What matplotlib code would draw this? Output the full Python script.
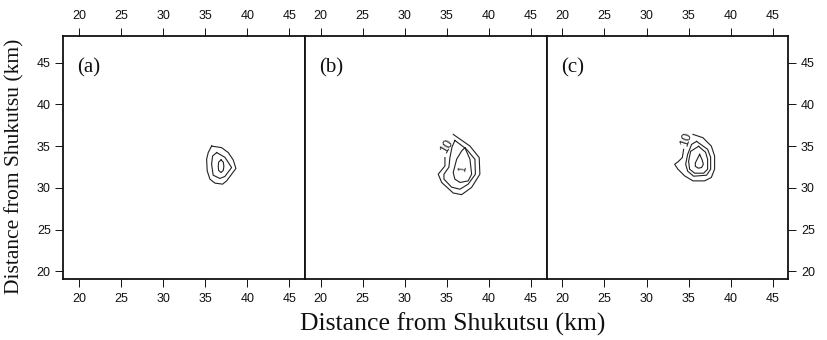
import matplotlib
matplotlib.use("Agg")
import matplotlib.pyplot as plt

# ---- data (km from Shukutsu) ----
xlim = (18.14, 46.86)
ylim = (19.1, 48.2)
ticks = [20, 25, 30, 35, 40, 45]
panel_labels = ["(a)", "(b)", "(c)"]

# panel (a) contour paths
a_outer_x = [35.76, 36.95, 37.74, 38.33, 38.65, 38.14, 37.55, 37.07, 36.16, 35.56, 35.24, 35.17, 35.36, 35.76]
a_outer_y = [35.02, 34.83, 34.24, 33.36, 32.33, 31.65, 30.85, 30.46, 30.58, 31.06, 32.05, 33.44, 34.24, 35.02]
a_mid_x = [36.36, 37.34, 38.14, 37.34, 36.75, 35.95, 35.76, 35.88, 36.36]
a_mid_y = [34.24, 33.68, 32.45, 31.38, 31.14, 31.53, 32.84, 33.83, 34.24]
a_in_x = [36.88, 37.15, 37.22, 37.15, 36.88, 36.60, 36.55, 36.60, 36.88]
a_in_y = [33.36, 33.10, 32.60, 32.10, 31.85, 32.10, 32.60, 33.10, 33.36]

# panel (b) contour paths
b_outer_x = [35.75, 37.74, 38.84, 38.92, 37.94, 36.75, 35.75, 34.38, 33.97, 34.77, 34.77]
b_outer_y = [36.42, 35.02, 33.64, 31.65, 30.07, 29.20, 29.40, 30.66, 31.65, 32.64, 33.64]
b_mid_x = [35.95, 37.34, 38.33, 38.39, 37.53, 36.55, 35.56, 34.65, 34.65, 35.24, 35.36, 35.60, 35.95]
b_mid_y = [35.70, 34.63, 33.44, 31.65, 30.46, 29.85, 30.10, 31.06, 31.65, 32.49, 33.64, 34.87, 35.70]
b_in_x = [37.14, 37.74, 37.94, 37.53, 36.55, 35.95, 35.75, 36.16, 36.75, 37.14]
b_in_y = [34.83, 33.44, 31.65, 30.85, 30.66, 31.06, 31.85, 33.44, 34.43, 34.83]

# panel (c) contour paths
c_outer_x = [35.52, 36.70, 37.70, 38.09, 38.09, 37.70, 36.90, 35.52, 34.53, 33.73, 33.34, 33.73, 34.26, 34.41]
c_outer_y = [36.42, 36.02, 35.02, 33.83, 32.25, 31.26, 30.85, 30.85, 31.45, 32.25, 32.84, 33.12, 33.64, 34.63]
c_mid1_x = [35.95, 37.26, 37.62, 37.62, 37.14, 35.60, 34.89, 34.65, 34.89, 35.36, 35.95]
c_mid1_y = [35.58, 34.63, 33.68, 32.25, 31.53, 31.41, 32.01, 32.84, 34.03, 35.22, 35.58]
c_mid2_x = [36.19, 37.02, 37.26, 37.26, 36.79, 35.72, 35.12, 35.00, 35.24, 36.19]
c_mid2_y = [34.99, 34.27, 33.44, 32.25, 31.77, 31.77, 32.25, 33.20, 34.39, 34.99]
c_in_x = [36.31, 36.60, 36.75, 36.55, 36.15, 35.80, 35.80, 36.05, 36.31]
c_in_y = [34.03, 33.40, 32.85, 32.45, 32.37, 32.60, 33.00, 33.50, 34.03]

# contour labels: (panel, x, y, text, rotation)
clabels = [(1, 34.97, 35.02, "10", 60), (1, 36.94, 32.25, "1", 80),
           (2, 34.73, 35.82, "10", 72)]

paths = [
    [(a_outer_x, a_outer_y), (a_mid_x, a_mid_y), (a_in_x, a_in_y)],
    [(b_outer_x, b_outer_y), (b_mid_x, b_mid_y), (b_in_x, b_in_y)],
    [(c_outer_x, c_outer_y), (c_mid1_x, c_mid1_y), (c_mid2_x, c_mid2_y), (c_in_x, c_in_y)],
]

sans = ["Liberation Sans", "DejaVu Sans"]
serif = ["Liberation Serif", "DejaVu Serif"]

fig = plt.figure(figsize=(8.27, 3.40), dpi=100)
W, H = 827.0, 340.0
left0, pw = 63.3, 241.7
bottom, ph = 61.0, 243.0

axes = []
for i in range(3):
    ax = fig.add_axes([(left0 + i * pw) / W, bottom / H, pw / W, ph / H])
    ax.set_xlim(*xlim)
    ax.set_ylim(*ylim)
    ax.set_xticks(ticks)
    ax.set_yticks(ticks)
    ax.tick_params(axis="x", which="both", direction="out", length=6, width=0.7,
                   top=True, bottom=True, labeltop=True, labelbottom=True,
                   labelsize=9, pad=4, colors="#111")
    ax.tick_params(axis="y", direction="out", length=6, width=0.7,
                   left=(i == 0), right=(i == 2), labelleft=(i == 0), labelright=(i == 2),
                   labelsize=9, pad=3, colors="#111")
    for lab in ax.get_xticklabels() + ax.get_yticklabels():
        lab.set_fontfamily(sans)
    for s in ax.spines.values():
        s.set_linewidth(1.3)
        s.set_color("#111")
    for px, py in paths[i]:
        ax.plot(px, py, color="#222", lw=0.8)
    ax.text(0.058, 0.868, panel_labels[i], transform=ax.transAxes, fontsize=15,
            family=serif, va="center", ha="left", color="#111")
    axes.append(ax)

for pi, x, y, t, r in clabels:
    axes[pi].text(x, y, t, fontsize=9 if t == "10" else 7, family=sans, rotation=r,
                  ha="center", va="center", color="#222")

fig.text(453 / W, 1 - 324 / H, "Distance from Shukutsu (km)", ha="center", va="center",
         fontsize=18.5, family=serif, color="#111")
fig.text(15 / W, 1 - 166 / H, "Distance from Shukutsu (km)", ha="center", va="center",
         rotation=90, fontsize=15.5, family=serif, color="#111")

fig.savefig("out.png", dpi=100)
